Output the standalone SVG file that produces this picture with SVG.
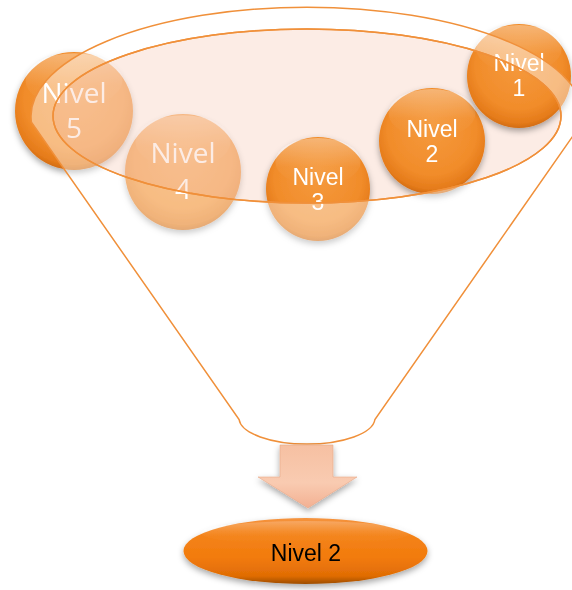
<svg xmlns="http://www.w3.org/2000/svg" width="572" height="590" viewBox="0 0 572 590">
  <defs>
    <radialGradient id="ball" cx="0.5" cy="0.42" r="0.6" fx="0.5" fy="0.35">
      <stop offset="0" stop-color="#f59a3e"/>
      <stop offset="0.7" stop-color="#f18c2a"/>
      <stop offset="0.9" stop-color="#e57b1a"/>
      <stop offset="1" stop-color="#c9650f"/>
    </radialGradient>
    <linearGradient id="gloss" x1="0" y1="0" x2="0" y2="1">
      <stop offset="0" stop-color="#ffffff" stop-opacity="0.35"/>
      <stop offset="0.6" stop-color="#ffffff" stop-opacity="0.05"/>
      <stop offset="1" stop-color="#ffffff" stop-opacity="0"/>
    </linearGradient>
    <linearGradient id="pill" x1="0" y1="0" x2="0" y2="1">
      <stop offset="0" stop-color="#f59440"/>
      <stop offset="0.2" stop-color="#f4841c"/>
      <stop offset="0.6" stop-color="#f27b0c"/>
      <stop offset="0.88" stop-color="#e06c05"/>
      <stop offset="1" stop-color="#9c4c00"/>
    </linearGradient>
    <linearGradient id="arrowFill" x1="0" y1="0" x2="0" y2="1">
      <stop offset="0" stop-color="#f6c0a2"/>
      <stop offset="0.6" stop-color="#f9cbb1"/>
      <stop offset="1" stop-color="#f3b092"/>
    </linearGradient>
    <filter id="shadow" x="-20%" y="-20%" width="140%" height="150%">
      <feDropShadow dx="0" dy="3" stdDeviation="3" flood-color="#000" flood-opacity="0.35"/>
    </filter>
    <g id="bead">
      <circle r="1" fill="url(#ball)"/>
      <ellipse cy="-0.52" rx="0.82" ry="0.46" fill="url(#gloss)"/>
    </g>
  </defs>
  <style>
    .lbl { fill: #ffffff; font-family: "Liberation Sans", Arial, sans-serif; font-size: 23px; text-anchor: middle; }
    .lblBig { fill: #ffffff; font-family: "Open Sans", "Liberation Sans", sans-serif; font-size: 28px; text-anchor: middle; }
    .rim { fill: none; stroke: #f0903a; stroke-width: 1.5; }
    .out { fill: #000000; font-family: "Liberation Sans", Arial, sans-serif; font-size: 23px; text-anchor: middle; }
  </style>

  <!-- items behind the funnel mouth -->
  <g id="nivel5" filter="url(#shadow)">
    <use href="#bead" transform="translate(74,111) scale(59)"/>
    <text class="lblBig" x="74" y="103">Nivel</text>
    <text class="lblBig" x="74" y="138">5</text>
  </g>
  <g id="nivel4" filter="url(#shadow)">
    <use href="#bead" transform="translate(183,172) scale(58)"/>
    <text class="lblBig" x="183" y="163">Nivel</text>
    <text class="lblBig" x="183" y="199">4</text>
  </g>

  <!-- funnel mouth (inner ellipse fill) -->
  <g id="mouth">
    <ellipse cx="307" cy="116" rx="254" ry="87" fill="#f9dccf" fill-opacity="0.55"/>
  </g>

  <!-- items sitting in the mouth -->
  <g id="nivel3" filter="url(#shadow)">
    <use href="#bead" transform="translate(318,189) scale(52)"/>
    <text class="lbl" x="318" y="185">Nivel</text>
    <text class="lbl" x="318" y="210">3</text>
  </g>
  <g id="nivel2" filter="url(#shadow)">
    <use href="#bead" transform="translate(432,141) scale(53)"/>
    <text class="lbl" x="432" y="137">Nivel</text>
    <text class="lbl" x="432" y="162">2</text>
  </g>
  <g id="nivel1" filter="url(#shadow)">
    <use href="#bead" transform="translate(519,76) scale(52)"/>
    <text class="lbl" x="519" y="71">Nivel</text>
    <text class="lbl" x="519" y="96">1</text>
  </g>

  <!-- funnel body: outer rim + cone, with the mouth cut out -->
  <g id="funnel">
    <path fill="#ffffff" fill-opacity="0.42" fill-rule="evenodd" stroke="#f0903a" stroke-width="1.5"
          d="M31.4,122.1 A276,109 0 1 1 582.6,122.1 L374.9,419.5 A68,26 0 0 1 239.1,419.5 Z
             M53,116 A254,87 0 1 0 561,116 A254,87 0 1 0 53,116 Z"/>
    <ellipse class="rim" cx="307" cy="116" rx="254" ry="87"/>
  </g>

  <!-- output arrow -->
  <g id="connectors">
    <polygon points="280,445 333,445 333,477 357,477 308,508 258,477 280,477"
             fill="url(#arrowFill)" stroke="#e8a888" stroke-width="0.6" filter="url(#shadow)"/>
  </g>

  <!-- result -->
  <g id="result" filter="url(#shadow)">
    <ellipse cx="305.5" cy="551" rx="122" ry="33" fill="url(#pill)"/>
    <ellipse cx="305.5" cy="533" rx="104" ry="12" fill="url(#gloss)" opacity="0.6"/>
    <text class="out" x="306" y="561">Nivel 2</text>
  </g>
</svg>
